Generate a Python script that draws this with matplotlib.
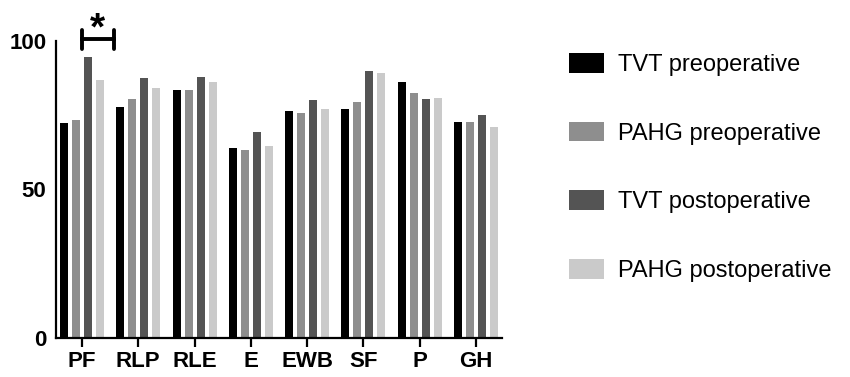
import numpy as np
import matplotlib
matplotlib.use('Agg')
import matplotlib.pyplot as plt

plt.rcParams['font.family'] = ['Liberation Sans', 'DejaVu Sans']

categories = ['PF', 'RLP', 'RLE', 'E', 'EWB', 'SF', 'P', 'GH']
series_names = ['TVT preoperative', 'PAHG preoperative',
                'TVT postoperative', 'PAHG postoperative']
tvt_pre = [72.3, 77.7, 83.4, 63.9, 76.5, 77.1, 86.2, 72.7]
pahg_pre = [73.4, 80.5, 83.4, 63.3, 75.9, 79.4, 82.5, 72.7]
tvt_post = [94.7, 87.4, 88.0, 69.5, 80.1, 89.8, 80.4, 75.0]
pahg_post = [86.9, 84.3, 86.1, 64.6, 77.1, 89.3, 80.7, 71.1]
colors = ['#000000', '#8e8e8e', '#545454', '#cacaca']

fig = plt.figure(figsize=(8.5, 3.77), dpi=100)
ax = fig.add_axes([0.0659, 0.1034, 0.5247, 0.788])

x = np.arange(len(categories))
pitch = 0.213
width = 0.142
for i, (vals, name, c) in enumerate(zip([tvt_pre, pahg_pre, tvt_post, pahg_post],
                                        series_names, colors)):
    ax.bar(x + (i - 1.5) * pitch, vals, width, color=c, label=name)

ax.set_xlim(-0.46, 7.46)
ax.set_ylim(0, 100)
ax.set_yticks([0, 50, 100])
ax.set_xticks(x)
ax.set_xticklabels(categories)
for lbl in ax.get_xticklabels() + ax.get_yticklabels():
    lbl.set_fontweight('bold')
    lbl.set_fontsize(16)
ax.tick_params(axis='y', length=0, pad=7)
ax.tick_params(axis='x', length=6.5, width=1.6, pad=3)
ax.spines['top'].set_visible(False)
ax.spines['right'].set_visible(False)
ax.spines['left'].set_linewidth(1.6)
ax.spines['bottom'].set_linewidth(1.6)

# significance bracket
x0, x1 = 0.0, 0.57
ax.plot([x0, x1], [100.7, 100.7], color='black', lw=2.8, clip_on=False)
ax.plot([x0, x0], [97.4, 103.6], color='black', lw=2.8, clip_on=False, solid_capstyle='round')
ax.plot([x1, x1], [97.4, 103.6], color='black', lw=2.8, clip_on=False, solid_capstyle='round')
ax.text((x0 + x1) / 2, 104.0, '*', ha='center', va='center', fontsize=28,
        fontweight='bold', clip_on=False)

fig.legend(loc='upper left', bbox_to_anchor=(0.644, 0.916), frameon=False,
           fontsize=17, handlelength=1.5, handleheight=0.9,
           labelspacing=1.94, handletextpad=0.6)

fig.savefig('out.png', dpi=100)
